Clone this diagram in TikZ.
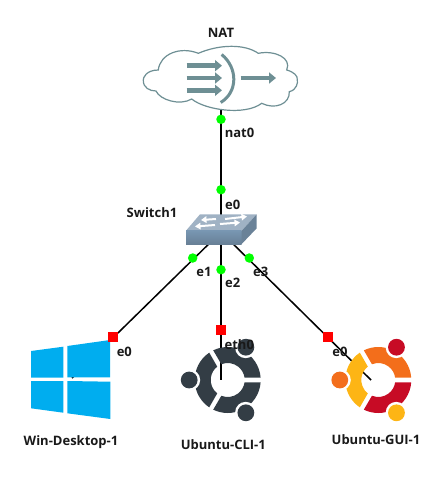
\documentclass[tikz,border=0pt]{standalone}
\usepackage{fontspec}
\setmainfont{Open Sans}
\usetikzlibrary{arrows.meta}
\definecolor{natgrey}  {RGB}{110,143,148}
\definecolor{swfront}  {RGB}{120,150,178}
\definecolor{swlow}    {RGB}{104,128,150}
\definecolor{swtop}    {RGB}{160,178,196}
\definecolor{swside}   {RGB}{106,130,152}
\definecolor{winblue}  {RGB}{0,173,239}
\definecolor{cligrey}  {RGB}{51,61,69}
\definecolor{uorange}  {RGB}{243,110,27}
\definecolor{ured}     {RGB}{199,11,37}
\definecolor{uyellow}  {RGB}{253,181,21}
\tikzset{
    link/.style={draw=black,line width=1.5pt},
    portup/.style={circle,fill=green,inner sep=0pt,minimum size=9.5pt},
    portdown/.style={rectangle,fill=red,inner sep=0pt,minimum size=10pt},
    devname/.style={font=\fontsize{13}{15}\selectfont\bfseries,inner sep=0pt,text=black!90},
    natarrow/.style={natgrey,line width=4.5pt,-{Triangle[length=7pt,width=11pt]}},
    swarrow/.style={white,line width=2pt,-{Triangle[length=5.5pt,width=6.5pt]}}
}
% ring, notches and dots of the ubuntu icon
\newcommand{\ubuntuicon}[7]{
  \begin{scope}[shift={(#1)},x=1pt,y=1pt]
    \fill[#2] (4:33) arc[start angle=4,end angle=116,radius=33] -- (112:17) arc[start angle=112,end angle=8,radius=17] -- cycle;
    \fill[#3] (-4:33) arc[start angle=-4,end angle=-116,radius=33] -- (-112:17) arc[start angle=-112,end angle=-8,radius=17] -- cycle;
    \fill[#4] (124:33) arc[start angle=124,end angle=236,radius=33] -- (232:17) arc[start angle=232,end angle=128,radius=17] -- cycle;
    \fill[white] (61:37) circle[radius=10.5] (180:38) circle[radius=10.5] (-61:37) circle[radius=10.5];
    \fill[#5] (61:37.5) circle[radius=8.4];
    \fill[#6] (180:38.5) circle[radius=8.4];
    \fill[#7] (-61:37.5) circle[radius=8.4];
  \end{scope}
}
\begin{document}
\begin{tikzpicture}[x=1pt,y=-1pt]
    \useasboundingbox (0,0) rectangle (445,477);
 %Centres of the devices
    \coordinate (natc) at (221,78);
    \coordinate (switchc) at (221,232);
    \coordinate (winc) at (72,378);
    \coordinate (clic) at (221,380);
    \coordinate (guic) at (371,380);
 %Links
    \draw[link] (natc) -- (switchc);
    \draw[link] (switchc) -- (winc);
    \draw[link] (switchc) -- (clic);
    \draw[link] (switchc) -- (guic);
 %NAT cloud
    \filldraw[draw=natgrey,fill=white,line width=1.2pt]
      (158.3,70) .. controls (146,70) and (143,78) .. (143.3,80)
      .. controls (143,88) and (150,91) .. (156,91)
      .. controls (160,100) and (180,106) .. (191.7,99)
      .. controls (205,110) and (245,116) .. (261.7,103.3)
      .. controls (275,110) and (290,104) .. (289.3,91.7)
      .. controls (297,90) and (298,82) .. (297.3,80)
      .. controls (298,76) and (294,72) .. (286.7,70)
      .. controls (292,58) and (275,50) .. (258.3,53.3)
      .. controls (245,44) and (220,44) .. (198.3,53.3)
      .. controls (180,46) and (160,54) .. (158.3,70) -- cycle;
    \draw[natarrow] (186.7,65.7) -- (222,65.7);
    \draw[natarrow] (186.7,78) -- (222,78);
    \draw[natarrow] (186.7,90.3) -- (222,90.3);
    \draw[natgrey,line width=3pt] (221.7,54.5) .. controls (238,68) and (238,92) .. (220.7,102.5);
    \draw[natarrow] (240.7,78) -- (276,78);
 %Switch
    \fill[swtop] (186,230.7) -- (200,214.3) -- (256.7,214.3) -- (241.7,230.7) -- cycle;
    \shade[top color=swfront,bottom color=swlow] (186,230.7) rectangle (241.7,244);
    \fill[swside] (241.7,230.7) -- (256.7,214.3) -- (256.7,228.3) -- (241.7,244) -- cycle;
    \draw[swarrow] (216,219) -- (201,220);
    \draw[swarrow] (225,219) -- (247,216.5);
    \draw[swarrow] (215,225) -- (195,226.5);
    \draw[swarrow] (220,224) -- (240,222.5);
 %Win-Desktop-1
    \fill[winblue] (31,351) -- (63.3,346.7) -- (63.3,377.7) -- (31,377.7) -- cycle;
    \fill[winblue] (67.3,346) -- (110,340) -- (110,377.3) -- (67.3,377.3) -- cycle;
    \fill[winblue] (31,381) -- (63.3,381) -- (63.3,412.7) -- (31,408.3) -- cycle;
    \fill[winblue] (67.3,381) -- (110.3,381.7) -- (110.3,419) -- (67.3,413.3) -- cycle;
 %Ubuntu-CLI-1 and Ubuntu-GUI-1
    \ubuntuicon{227.7,380}{cligrey}{cligrey}{cligrey}{cligrey}{cligrey}{cligrey}
    \ubuntuicon{378.3,380}{uorange}{ured}{uyellow}{ured}{uorange}{uyellow}
 %Ports
    \node[portup] (natport) at (221,119.3) {};
    \node[portup] (swport0) at (221,189.7) {};
    \node[portup] (swport1) at (192.7,258) {};
    \node[portup] (swport2) at (221,269.7) {};
    \node[portup] (swport3) at (249.3,258) {};
    \node[portdown] (winport) at (113.3,336.7) {};
    \node[portdown] (cliport) at (221,329.7) {};
    \node[portdown] (guiport) at (328.3,336.7) {};
 %Labels
    \node[devname] (natname) at (221,33) {NAT};
    \node[devname] (switchname) at (152,213) {Switch1};
    \node[devname] (winname) at (71,442) {Win-Desktop-1};
    \node[devname] (cliname) at (223.3,444.3) {Ubuntu-CLI-1};
    \node[devname] (guiname) at (376,440) {Ubuntu-GUI-1};
    \node[devname] (natlabel) at (239.5,133) {nat0};
    \node[devname] (swlabel0) at (232.7,205) {e0};
    \node[devname] (swlabel1) at (204,272) {e1};
    \node[devname] (swlabel2) at (232.7,282.7) {e2};
    \node[devname] (swlabel3) at (260.7,272) {e3};
    \node[devname] (winlabel) at (124.3,351.7) {e0};
    \node[devname] (clilabel) at (239.3,345) {eth0};
    \node[devname] (guilabel) at (340,351.7) {e0};
\end{tikzpicture}
\end{document}
